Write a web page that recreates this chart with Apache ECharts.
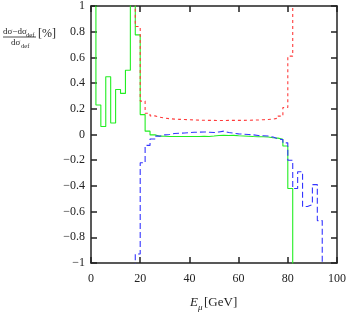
<!DOCTYPE html>
<html><head><meta charset="utf-8">
<script src="https://cdn.jsdelivr.net/npm/echarts@6/dist/echarts.min.js"></script>
<style>html,body{margin:0;padding:0;background:#fff}#c{width:349px;height:314px}</style>
</head><body><div id="c"></div>
<script>
// bin left edges (2 GeV bins)
const binStart = [0,2,4,6,8,10,12,14,16,18,20,22,24,26,28,30,32,34,36,38,40,42,44,46,48,50,52,54,56,58,60,62,64,66,68,70,72,74,76,78,80,82,84,86,88,90,92,94];
const binWidth = 2;
// green solid histogram (null = no entry); values beyond +/-1 are clipped off the frame
const greenVals = [1.5,0.23,0.062,0.45,0.09,0.35,0.32,0.5,1.5,0.775,0.155,0.026,-0.003,-0.013,-0.014,-0.015,-0.015,-0.016,-0.015,-0.015,-0.016,-0.015,-0.014,-0.015,-0.012,-0.008,-0.006,-0.008,-0.007,-0.01,-0.012,-0.014,-0.016,-0.017,-0.018,-0.02,-0.025,-0.028,-0.037,-0.09,-0.42,-1.5,null,null,null,null,null,null];
// red short-dashed histogram
const redVals = [null,null,null,null,null,null,null,null,1.5,0.84,0.26,0.165,0.145,0.135,0.128,0.123,0.12,0.118,0.117,0.115,0.113,0.112,0.111,0.11,0.11,0.109,0.109,0.11,0.11,0.11,0.11,0.111,0.112,0.113,0.115,0.117,0.12,0.127,0.143,0.21,0.61,1.5,null,null,null,null,null,null];
// blue long-dashed histogram
const blueVals = [null,null,null,null,null,null,null,null,-1.5,-0.93,-0.22,-0.085,-0.035,-0.013,-0.003,0.0,0.008,0.01,0.012,0.015,0.018,0.018,0.02,0.018,0.015,0.02,0.026,0.015,0.01,0.005,0.003,0.0,-0.003,-0.008,-0.01,-0.012,-0.02,-0.034,-0.04,-0.065,-0.2,-0.42,-0.29,-0.56,-0.545,-0.39,-0.67,-1.5];
// tick labels
const xTickLabels = ['0','20','40','60','80','100'];
const yTickLabels = ['\u22121','\u22120.8','\u22120.6','\u22120.4','\u22120.2','0','0.2','0.4','0.6','0.8','1'];

function stepData(vals){
  const d = [];
  let last = -1;
  for (let i=0;i<binStart.length;i++){
    if (vals[i]===null) continue;
    d.push([binStart[i], vals[i]]);
    last = i;
  }
  if (last>=0) d.push([binStart[last]+binWidth, vals[last]]);
  return d;
}

const serif = 'Liberation Serif';
const axisCol = '#222';
const xAxisBase = {type:'value',min:0,max:100,interval:20,
  axisLine:{show:true,onZero:false,lineStyle:{color:axisCol,width:1.5}},
  axisTick:{show:true,inside:true,length:6,lineStyle:{color:axisCol,width:1.5}},
  splitLine:{show:false}};
const yAxisBase = {type:'value',min:-1,max:1,interval:0.2,
  axisLine:{show:true,onZero:false,lineStyle:{color:axisCol,width:1.5}},
  axisTick:{show:true,inside:true,length:6,lineStyle:{color:axisCol,width:1.5}},
  splitLine:{show:false}};

const chart = echarts.init(document.getElementById('c'), null, {renderer:'canvas'});
chart.setOption({
  animation:false,
  grid:{left:91,right:10,top:5,bottom:51},
  xAxis:[
    Object.assign({}, xAxisBase, {position:'bottom',
      axisLabel:{show:true,margin:10,color:'#222',fontFamily:serif,fontSize:12,
        formatter:v=>xTickLabels[Math.round(v/20)]}}),
    Object.assign({}, xAxisBase, {position:'top',axisLabel:{show:false}})
  ],
  yAxis:[
    Object.assign({}, yAxisBase, {position:'left',
      axisLabel:{show:true,margin:6,color:'#222',fontFamily:serif,fontSize:12,
        formatter:v=>yTickLabels[Math.round((v+1)/0.2)]}}),
    Object.assign({}, yAxisBase, {position:'right',axisLabel:{show:false}})
  ],
  series:[
    {type:'line',step:'end',symbol:'none',clip:true,data:stepData(greenVals),
      lineStyle:{color:'#22ee22',width:1.1}},
    {type:'line',step:'end',symbol:'none',clip:true,data:stepData(redVals),
      lineStyle:{color:'#ff3b3b',width:1.1,type:[3,3]}},
    {type:'line',step:'end',symbol:'none',clip:true,data:stepData(blueVals),
      lineStyle:{color:'#3535ff',width:1.1,type:[6,3]}}
  ],
  graphic:[
    {type:'text',left:3,top:27,style:{text:'d\u03c3\u2212d\u03c3',font:'9px "Liberation Serif"',fill:'#222'}},
    {type:'text',left:26,top:32,style:{text:'def',font:'6.5px "Liberation Serif"',fill:'#222'}},
    {type:'line',shape:{x1:3,y1:37,x2:36,y2:37},style:{stroke:'#222',lineWidth:0.8}},
    {type:'text',left:11,top:38,style:{text:'d\u03c3',font:'9px "Liberation Serif"',fill:'#222'}},
    {type:'text',left:21,top:43,style:{text:'def',font:'6.5px "Liberation Serif"',fill:'#222'}},
    {type:'text',left:38,top:28,style:{text:'[%]',font:'12px "Liberation Serif"',fill:'#222'}},
    {type:'text',left:190,top:296,style:{text:'E',font:'italic 13px "Liberation Serif"',fill:'#222'}},
    {type:'text',left:198,top:303,style:{text:'\u03bc',font:'italic 9px "Liberation Serif"',fill:'#222'}},
    {type:'text',left:204,top:296,style:{text:'[GeV]',font:'13px "Liberation Serif"',fill:'#222'}}
  ]
});
</script></body></html>
